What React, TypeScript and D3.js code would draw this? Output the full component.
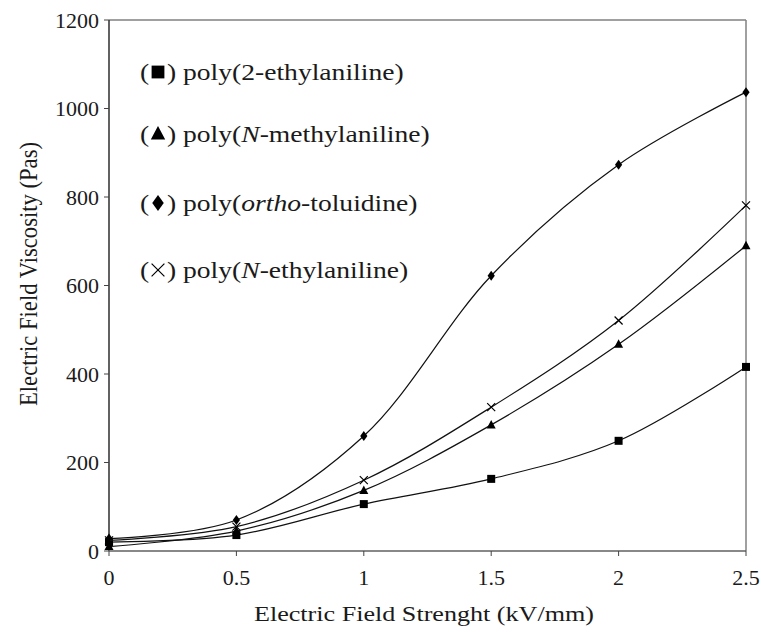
import React from "react";
import * as d3 from "d3";

const xValues = [0, 0.5, 1, 1.5, 2, 2.5];
const ethyl2 = [20, 36, 106, 163, 249, 416];
const nMethyl = [10, 45, 137, 285, 467, 690];
const orthoTol = [28, 70, 260, 622, 873, 1037];
const nEthyl = [24, 55, 160, 325, 521, 781];
const xTicks = [0, 0.5, 1, 1.5, 2, 2.5];
const yTicks = [0, 200, 400, 600, 800, 1000, 1200];

const W = 761, H = 632;
const L = 109, R = 746, T = 20, B = 551;

export default function App() {
  const x = d3.scaleLinear().domain([0, 2.5]).range([L, R]);
  const y = d3.scaleLinear().domain([0, 1200]).range([B, T]);
  const line = d3.line<number>().x((_, i) => x(xValues[i])).y((v) => y(v)).curve(d3.curveCatmullRom.alpha(0.5));
  const series = [
    { vals: ethyl2, m: "square" },
    { vals: nMethyl, m: "triangle" },
    { vals: orthoTol, m: "diamond" },
    { vals: nEthyl, m: "cross" },
  ];
  const marker = (m: string, cx: number, cy: number, k: string, s = 1) => {
    if (m === "square") return <rect key={k} x={cx - 4 * s} y={cy - 4 * s} width={8 * s} height={8 * s} fill="#000" />;
    if (m === "triangle") return <path key={k} d={`M${cx},${cy - 5 * s}L${cx + 4.5 * s},${cy + 3.5 * s}L${cx - 4.5 * s},${cy + 3.5 * s}Z`} fill="#000" />;
    if (m === "diamond") return <path key={k} d={`M${cx},${cy - 5 * s}L${cx + 3.6 * s},${cy}L${cx},${cy + 5 * s}L${cx - 3.6 * s},${cy}Z`} fill="#000" />;
    return <path key={k} d={`M${cx - 4 * s},${cy - 4 * s}L${cx + 4 * s},${cy + 4 * s}M${cx + 4 * s},${cy - 4 * s}L${cx - 4 * s},${cy + 4 * s}`} stroke="#000" strokeWidth={1.2} fill="none" />;
  };
  const legend = [
    { m: "square", y: 72, parts: [["poly(2-ethylaniline)", false]] },
    { m: "triangle", y: 134, parts: [["poly(", false], ["N", true], ["-methylaniline)", false]] },
    { m: "diamond", y: 203, parts: [["poly(", false], ["ortho", true], ["-toluidine)", false]] },
    { m: "cross", y: 270, parts: [["poly(", false], ["N", true], ["-ethylaniline)", false]] },
  ];
  const font = "'Liberation Serif', 'Times New Roman', serif";
  const ink = "#1a1a1a";
  return (
    <svg width={W} height={H} style={{ position: "absolute", left: 0, top: 0, background: "#fff" }} fontFamily={font}>
      <rect x={0} y={0} width={W} height={H} fill="#fff" />
      <line x1={L} y1={T} x2={R} y2={T} stroke="#808080" strokeWidth={1.5} />
      <line x1={R} y1={T} x2={R} y2={B} stroke="#808080" strokeWidth={1.5} />
      <line x1={L} y1={T} x2={L} y2={B} stroke="#3a3a3a" strokeWidth={1.6} />
      <line x1={L} y1={B} x2={R} y2={B} stroke="#606060" strokeWidth={1.6} />
      {yTicks.map((t) => (
        <g key={"y" + t}>
          <line x1={L - 5} x2={L} y1={y(t)} y2={y(t)} stroke="#444" />
          <text x={L - 10} y={y(t)} dy="0.35em" textAnchor="end" fontSize={22} fill={ink}>{t}</text>
        </g>
      ))}
      {xTicks.map((t) => (
        <g key={"x" + t}>
          <line x1={x(t)} x2={x(t)} y1={B} y2={B + 5} stroke="#444" />
          <text x={x(t)} y={B + 34} textAnchor="middle" fontSize={22} fill={ink}>{t}</text>
        </g>
      ))}
      <text x={424} y={621} textAnchor="middle" fontSize={22} fill={ink} textLength={340} lengthAdjust="spacingAndGlyphs">Electric Field Strenght (kV/mm)</text>
      <g transform="translate(37,274) scale(1.12,1) rotate(-90)">
        <text x={0} y={0} textAnchor="middle" fontSize={22.5} fill={ink} textLength={264} lengthAdjust="spacingAndGlyphs">Electric Field Viscosity (Pas)</text>
      </g>
      {series.map((s, si) => (
        <g key={"s" + si}>
          <path d={line(s.vals) || ""} fill="none" stroke="#111" strokeWidth={1.2} />
          {s.vals.map((v, i) => marker(s.m, x(xValues[i]), y(v), `m${si}-${i}`))}
        </g>
      ))}
      {legend.map((l, i) => (
        <g key={"l" + i}>
          <g transform={`translate(140,${l.y}) scale(1.2,1)`}>
            <text x={0} y={0} dy="0.33em" fontSize={23} fill={ink}>(</text>
          </g>
          {marker(l.m, 158, l.y, "lm" + i, 1.6)}
          <g transform={`translate(167,${l.y}) scale(1.2,1)`}>
            <text x={0} y={0} dy="0.33em" fontSize={23} fill={ink}>)</text>
          </g>
          <g transform={`translate(183,${l.y}) scale(1.2,1)`}>
            <text x={0} y={0} dy="0.33em" fontSize={23} fill={ink}>
              {l.parts.map((p, j) => (
                <tspan key={j} fontStyle={p[1] ? "italic" : "normal"}>{p[0] as string}</tspan>
              ))}
            </text>
          </g>
        </g>
      ))}
    </svg>
  );
}
